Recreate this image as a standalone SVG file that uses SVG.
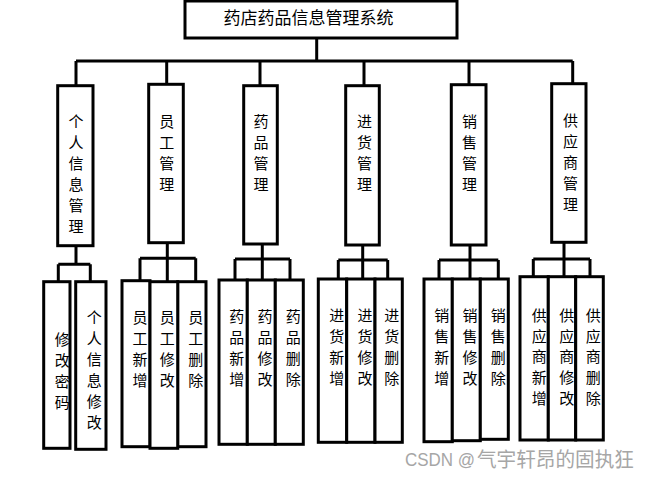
<svg xmlns="http://www.w3.org/2000/svg" width="651" height="478" viewBox="0 0 651 478">
<style>
rect{fill:#fff;stroke:#000;stroke-width:3}
#connectors path{fill:none;stroke:#000;stroke-width:3}
text{font-family:"Noto Sans CJK SC","Noto Sans CJK JP",sans-serif;fill:#000;text-anchor:middle}
.t1{font-size:17px}
.t2{font-size:15px}
.wm{font-family:"Liberation Sans","Noto Sans CJK SC",sans-serif;fill:#a6a6a6;text-anchor:start;font-size:18px}
.wc{font-family:"Noto Sans CJK SC",sans-serif;fill:#a6a6a6;text-anchor:start;font-size:20px}
</style>
<rect x="0" y="0" width="651" height="478" style="fill:#fff;stroke:none"/>
<g id="connectors">
<path d="M316.7 38V61M76 61H572.7M76 61V85.7M166.7 61V84.3M260 61V85.7M364 61V85.7M469 61V84.7M572.7 61V83.7"/>
<path d="M76 245.7V264.3M58.3 264.3H90.3M58.3 264.3V281.7M90.3 264.3V281.7"/>
<path d="M167.3 242.7V258.3M140 258.3H195.7M140 258.3V281M167.3 258.3V281M195.7 258.3V281"/>
<path d="M262.3 244V259M235 259H290M235 259V280M262.3 259V280M290 259V280"/>
<path d="M362.7 245V260M338.3 260H387.7M338.3 260V279M362.7 260V279M387.7 260V279"/>
<path d="M470 245V260M439 260H498.3M439 260V279M470 260V279M498.3 260V279"/>
<path d="M564 242.3V259M533.3 259H590M533.3 259V276.7M564 259V276.7M590 259V276.7"/>
</g>
<g id="root"><rect x="185" y="1" width="272" height="37"/><text class="t1" x="308.5" y="24">药店药品信息管理系统</text></g>
<g id="n-personal"><rect x="57.7" y="85.7" width="35.3" height="160"/><text class="t2"><tspan x="76" y="127">个</tspan><tspan x="76" y="148">人</tspan><tspan x="76" y="169">信</tspan><tspan x="76" y="190">息</tspan><tspan x="76" y="211">管</tspan><tspan x="76" y="232">理</tspan></text></g>
<g id="n-staff"><rect x="148.7" y="84.3" width="34.6" height="158.4"/><text class="t2"><tspan x="166.7" y="127">员</tspan><tspan x="166.7" y="148">工</tspan><tspan x="166.7" y="169">管</tspan><tspan x="166.7" y="190">理</tspan></text></g>
<g id="n-drug"><rect x="243.7" y="85.7" width="33.6" height="158.3"/><text class="t2"><tspan x="261" y="127">药</tspan><tspan x="261" y="148">品</tspan><tspan x="261" y="169">管</tspan><tspan x="261" y="190">理</tspan></text></g>
<g id="n-purchase"><rect x="345.7" y="85.7" width="33.6" height="159.3"/><text class="t2"><tspan x="364.5" y="127">进</tspan><tspan x="364.5" y="148">货</tspan><tspan x="364.5" y="169">管</tspan><tspan x="364.5" y="190">理</tspan></text></g>
<g id="n-sales"><rect x="451.3" y="84.7" width="34.7" height="160.3"/><text class="t2"><tspan x="469.5" y="127">销</tspan><tspan x="469.5" y="148">售</tspan><tspan x="469.5" y="169">管</tspan><tspan x="469.5" y="190">理</tspan></text></g>
<g id="n-supplier"><rect x="551.7" y="83.7" width="34.3" height="158.6"/><text class="t2"><tspan x="570.5" y="126">供</tspan><tspan x="570.5" y="147">应</tspan><tspan x="570.5" y="168">商</tspan><tspan x="570.5" y="189">管</tspan><tspan x="570.5" y="210">理</tspan></text></g>
<g id="n-pwd"><rect x="43.7" y="281.7" width="26.3" height="166.6"/><text class="t2"><tspan x="62.3" y="345">修</tspan><tspan x="62.3" y="366">改</tspan><tspan x="62.3" y="387">密</tspan><tspan x="62.3" y="408">码</tspan></text></g>
<g id="n-pinfo"><rect x="75.7" y="281.7" width="30.3" height="167.6"/><text class="t2"><tspan x="94.3" y="323">个</tspan><tspan x="94.3" y="344">人</tspan><tspan x="94.3" y="365">信</tspan><tspan x="94.3" y="386">息</tspan><tspan x="94.3" y="407">修</tspan><tspan x="94.3" y="428">改</tspan></text></g>
<g id="n-staff-add"><rect x="122" y="280.7" width="28" height="166"/><text class="t2"><tspan x="140" y="323">员</tspan><tspan x="140" y="344">工</tspan><tspan x="140" y="365">新</tspan><tspan x="140" y="386">增</tspan></text></g>
<g id="n-staff-del"><rect x="177.7" y="281.7" width="28.3" height="165"/><text class="t2"><tspan x="195.7" y="323">员</tspan><tspan x="195.7" y="344">工</tspan><tspan x="195.7" y="365">删</tspan><tspan x="195.7" y="386">除</tspan></text></g>
<g id="n-staff-edit"><rect x="150" y="281.7" width="27.7" height="166.6"/><text class="t2"><tspan x="167.3" y="323">员</tspan><tspan x="167.3" y="344">工</tspan><tspan x="167.3" y="365">修</tspan><tspan x="167.3" y="386">改</tspan></text></g>
<g id="n-drug-add"><rect x="219" y="280" width="28.3" height="164.3"/><text class="t2"><tspan x="236.7" y="322">药</tspan><tspan x="236.7" y="343">品</tspan><tspan x="236.7" y="364">新</tspan><tspan x="236.7" y="385">增</tspan></text></g>
<g id="n-drug-edit"><rect x="247.3" y="280" width="28" height="164.3"/><text class="t2"><tspan x="265" y="322">药</tspan><tspan x="265" y="343">品</tspan><tspan x="265" y="364">修</tspan><tspan x="265" y="385">改</tspan></text></g>
<g id="n-drug-del"><rect x="275.3" y="280" width="28" height="164.3"/><text class="t2"><tspan x="293.3" y="322">药</tspan><tspan x="293.3" y="343">品</tspan><tspan x="293.3" y="364">删</tspan><tspan x="293.3" y="385">除</tspan></text></g>
<g id="n-pur-add"><rect x="318.3" y="279" width="28.4" height="163.3"/><text class="t2"><tspan x="336.7" y="321">进</tspan><tspan x="336.7" y="342">货</tspan><tspan x="336.7" y="363">新</tspan><tspan x="336.7" y="384">增</tspan></text></g>
<g id="n-pur-edit"><rect x="346.7" y="279" width="28.3" height="163.3"/><text class="t2"><tspan x="365" y="321">进</tspan><tspan x="365" y="342">货</tspan><tspan x="365" y="363">修</tspan><tspan x="365" y="384">改</tspan></text></g>
<g id="n-pur-del"><rect x="375" y="279" width="27.3" height="163.3"/><text class="t2"><tspan x="391.7" y="321">进</tspan><tspan x="391.7" y="342">货</tspan><tspan x="391.7" y="363">删</tspan><tspan x="391.7" y="384">除</tspan></text></g>
<g id="n-sale-add"><rect x="424" y="279" width="28.3" height="162.7"/><text class="t2"><tspan x="441.7" y="321">销</tspan><tspan x="441.7" y="342">售</tspan><tspan x="441.7" y="363">新</tspan><tspan x="441.7" y="384">增</tspan></text></g>
<g id="n-sale-edit"><rect x="452.3" y="279" width="28" height="161.7"/><text class="t2"><tspan x="470" y="321">销</tspan><tspan x="470" y="342">售</tspan><tspan x="470" y="363">修</tspan><tspan x="470" y="384">改</tspan></text></g>
<g id="n-sale-del"><rect x="480.3" y="279" width="28" height="160.3"/><text class="t2"><tspan x="498.3" y="321">销</tspan><tspan x="498.3" y="342">售</tspan><tspan x="498.3" y="363">删</tspan><tspan x="498.3" y="384">除</tspan></text></g>
<g id="n-sup-add"><rect x="520" y="276.7" width="28.3" height="163.3"/><text class="t2"><tspan x="539.3" y="321">供</tspan><tspan x="539.3" y="342">应</tspan><tspan x="539.3" y="362">商</tspan><tspan x="539.3" y="383">新</tspan><tspan x="539.3" y="404">增</tspan></text></g>
<g id="n-sup-edit"><rect x="548.3" y="276.7" width="27.4" height="163.3"/><text class="t2"><tspan x="566.7" y="321">供</tspan><tspan x="566.7" y="342">应</tspan><tspan x="566.7" y="362">商</tspan><tspan x="566.7" y="383">修</tspan><tspan x="566.7" y="404">改</tspan></text></g>
<g id="n-sup-del"><rect x="575.7" y="276.7" width="27.6" height="163.3"/><text class="t2"><tspan x="593.3" y="321">供</tspan><tspan x="593.3" y="342">应</tspan><tspan x="593.3" y="362">商</tspan><tspan x="593.3" y="383">删</tspan><tspan x="593.3" y="404">除</tspan></text></g>
<text class="wm" x="405" y="466" textLength="70" lengthAdjust="spacingAndGlyphs">CSDN @</text>
<text class="wc" x="477" y="467" textLength="157" lengthAdjust="spacingAndGlyphs">气宇轩昂的固执狂</text>
</svg>
